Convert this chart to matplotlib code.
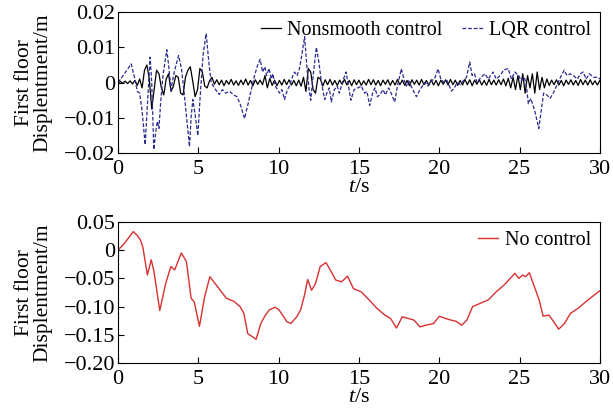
import numpy as np
import matplotlib.pyplot as plt

plt.rcParams['font.family'] = ['Liberation Serif', 'DejaVu Serif']
plt.rcParams['mathtext.fontset'] = 'custom'
plt.rcParams['mathtext.rm'] = 'Liberation Serif'
plt.rcParams['mathtext.it'] = 'Liberation Serif:italic'

# Nonsmooth control, sampled every 0.15 s (values in 1e-3 m)
t_ns = np.arange(201) * 0.15
ns_mm = [
    0.0, 0.3, -0.2, 0.4, -0.3, 0.5, -0.4, 0.6, -0.8, 1.0,
    -1.5, 3.5, 5.0, 1.0, -7.5, -2.0, 3.5, 2.5, -1.5, -3.5,
    1.0, 2.5, -2.5, -1.0, 2.0, 1.5, -3.0, -3.5, 1.5, 3.5,
    4.5, 0.5, -4.0, -2.0, 4.0, 3.0, -1.0, -1.5, 0.5, 1.5,
    -0.5, 0.8, -0.6, 0.7, -0.9, 0.6, -0.5, 0.9, -0.7, 0.5,
    -0.8, 0.7, -0.6, 1.0, -0.7, 0.6, -0.9, 0.8, -0.5, 0.7,
    -0.6, 2.0, -1.5, 1.2, -0.8, 0.7, -0.9, 0.6, -0.7, 0.9,
    -0.6, 0.8, -0.7, 0.6, -0.9, 0.7, -1.0, 1.5, -2.5, 4.0,
    3.0, -2.0, -3.0, 1.5, 1.0, -1.0, 0.8, -0.6, 0.9, -0.7,
    0.6, -0.8, 0.7, -0.5, 0.9, -0.7, 0.6, -0.9, 0.8, -0.6,
    0.7, -0.8, 0.5, -0.7, 0.9, -0.6, 0.8, -0.7, 0.6, -0.9,
    0.7, -0.5, 0.8, -0.8, 0.6, -0.7, 0.9, -0.6, 0.7, -0.8,
    0.6, -0.9, 0.8, -0.5, 0.7, -0.7, 0.9, -0.6, 0.6, -0.8,
    0.8, -0.7, 0.6, -0.9, 0.7, -0.5, 0.8, -0.7, 0.9, -0.6,
    0.7, -0.8, 0.6, -0.7, 0.9, -0.6, 0.8, -0.9, 0.7, -0.5,
    0.8, -0.7, 0.6, -0.8, 0.9, -0.6, 0.7, -0.7, 0.8, -0.6,
    1.0, -0.9, 1.2, -1.5, 1.5, -2.0, 2.0, -2.0, 2.5, -3.0,
    2.0, -1.5, 2.5, -3.0, 3.0, -2.0, 1.5, -1.5, 1.0, -0.8,
    0.7, -0.6, 0.8, -0.7, 0.6, -0.9, 0.7, -0.5, 0.8, -0.7,
    0.6, -0.8, 0.9, -0.6, 0.7, -0.7, 0.8, -0.6, 0.5, -0.7,
    0.6,
]

# LQR control (t in s, values in 1e-3 m)
t_lqr = [0.0, 0.4, 0.82, 1.05, 1.2, 1.35, 1.5, 1.69, 1.85, 2.0, 2.1, 2.23, 2.35, 2.45, 2.55,
         2.65, 2.8, 3.04, 3.15, 3.3, 3.5, 3.77, 3.95, 4.1, 4.25, 4.45, 4.55, 4.66, 4.8, 4.97,
         5.1, 5.3, 5.49, 5.65, 5.8, 6.0, 6.3, 6.5, 6.7, 6.95, 7.2, 7.4, 7.6, 7.88, 8.1, 8.3,
         8.5, 8.7, 8.85, 9.0, 9.15, 9.25, 9.4, 9.55, 9.64, 9.8, 10.06, 10.2, 10.37, 10.55,
         10.68, 10.85, 10.99, 11.15, 11.3, 11.45, 11.62, 11.75, 11.9, 12.0, 12.15, 12.35, 12.5,
         12.64, 12.75, 12.87, 13.0, 13.16, 13.28, 13.47, 13.65, 13.78, 14.0, 14.2, 14.35, 14.5,
         14.7, 14.94, 15.15, 15.35, 15.5, 15.67, 15.85, 16.0, 16.15, 16.3, 16.5, 16.65, 16.85,
         17.0, 17.23, 17.4, 17.64, 17.8, 17.95, 18.1, 18.3, 18.58, 18.8, 18.95, 19.1, 19.3,
         19.5, 19.7, 19.93, 20.1, 20.3, 20.5, 20.76, 20.95, 21.1, 21.3, 21.5, 21.7, 21.9, 22.05,
         22.2, 22.35, 22.6, 22.85, 23.05, 23.35, 23.55, 23.8, 24.0, 24.29, 24.5, 24.7, 24.95,
         25.1, 25.3, 25.43, 25.55, 25.7, 25.95, 26.2, 26.35, 26.5, 26.7, 26.9, 27.1, 27.3,
         27.55, 27.78, 27.95, 28.15, 28.35, 28.6, 28.8, 28.96, 29.15, 29.35, 29.6, 29.89, 30.0]
lqr_mm = [0, 2.5, 5.3, 1.0, -2.5, -3.0, -8.0, -17.6, -5.0, 7.2, 0.0, -19.0, -14.0, -11.0, -13.0,
          -6.0, 2.0, 9.3, 5.0, -2.0, 3.0, 7.7, 4.0, -2.0, -9.0, -18.2, -10.0, -4.8, -9.0, -15.0,
          -5.0, 8.0, 13.9, 6.0, 0.0, -1.5, -3.4, -2.0, -3.0, -2.5, -3.5, -4.0, -6.0, -10.2, -6.0, -2.0,
          2.0, 5.0, 6.6, 3.0, 4.5, 2.0, 4.0, 1.0, 2.5, -1.0, -3.0, -2.0, -4.8, -2.0,
          -1.0, 1.5, 3.0, 2.0, 4.0, 8.0, 13.0, 5.0, -2.0, -5.0, 2.0, 10.0, 6.0,
          1.0, -2.0, -4.8, -3.0, -1.5, -5.5, -2.0, -1.0, -3.0, 0.5, 3.0, -1.0, -5.0,
          -2.0, -1.5, -1.0, -3.0, -2.5, -6.5, -3.0, -1.5, -4.0, -3.5, -2.0, -3.5, -1.5,
          -3.0, -5.5, -1.0, 3.9, 1.0, -1.0, 0.5, -1.5, -4.0, -2.0, -1.0, 0.0, -1.0,
          0.5, 1.0, 3.9, 1.0, 0.0, 0.5, -2.4, -1.5, 0.0, -0.5, 0.5, 1.5, 5.8, 2.0,
          2.5, 0.0, 1.5, 2.5, 1.0, 3.0, 1.0, 2.0, 3.5, 4.0, 1.0, 3.0, 2.0,
          0.5, 1.5, -1.0, -6.0, -4.5, -8.0, -13.0, -8.0, -3.0, -3.5, -4.5, -3.0, -1.0,
          1.5, 3.5, 2.0, 2.5, 2.0, 1.0, 2.5, 3.0, 1.0, 2.5, 1.5, 1.5, 1.0]

# No control (t in s, displacement in m)
t_nc = [0.0, 0.41, 0.95, 1.2, 1.39, 1.55, 1.83, 2.07, 2.24, 2.6, 2.97, 3.29, 3.53, 3.94,
        4.26, 4.55, 4.75, 5.07, 5.4, 5.72, 6.26, 6.74, 7.23, 7.6, 7.84, 8.08, 8.4, 8.6, 8.89,
        9.18, 9.42, 9.79, 10.03, 10.52, 10.76, 11.13, 11.37, 11.61, 11.81, 12.05, 12.3, 12.59,
        12.95, 13.27, 13.56, 13.93, 14.29, 14.66, 15.15, 15.63, 16.12, 16.61, 16.97, 17.34,
        17.7, 18.07, 18.43, 18.8, 19.16, 19.65, 20.01, 20.38, 20.74, 21.05, 21.4, 21.72, 22.08,
        22.57, 23.06, 23.54, 24.03, 24.52, 24.71, 24.96, 25.2, 25.37, 25.61, 25.93, 26.22,
        26.47, 26.83, 27.2, 27.44, 27.8, 28.17, 28.65, 29.14, 29.63, 30.0]
nc = [0.0, 0.0125, 0.033, 0.026, 0.0185, 0.005, -0.044, -0.017, -0.038, -0.107, -0.059,
      -0.029, -0.035, -0.005, -0.02, -0.085, -0.092, -0.135, -0.082, -0.047, -0.067, -0.085,
      -0.091, -0.1, -0.112, -0.148, -0.154, -0.158, -0.13, -0.115, -0.106, -0.101, -0.106,
      -0.127, -0.13, -0.118, -0.106, -0.08, -0.052, -0.071, -0.059, -0.029, -0.022, -0.038,
      -0.053, -0.056, -0.046, -0.068, -0.074, -0.088, -0.103, -0.115, -0.121, -0.138, -0.118,
      -0.121, -0.124, -0.136, -0.133, -0.13, -0.117, -0.121, -0.124, -0.126, -0.133, -0.124,
      -0.1, -0.094, -0.088, -0.074, -0.062, -0.047, -0.041, -0.05, -0.044, -0.047, -0.04,
      -0.065, -0.088, -0.117, -0.115, -0.13, -0.14, -0.13, -0.112, -0.103, -0.091, -0.08, -0.072]

fig = plt.figure(figsize=(6.13, 4.16), dpi=100)
ax1 = fig.add_axes([0.1925, 0.632, 0.786, 0.339])
ax2 = fig.add_axes([0.1925, 0.1274, 0.786, 0.339])

ax1.plot(t_ns, np.array(ns_mm) * 1e-3, color='black', lw=0.9, label='Nonsmooth control')
ax1.plot(t_lqr, np.array(lqr_mm) * 1e-3, color='#2a2a8e', lw=0.9, dashes=(3, 1.5),
         label='LQR control')
ax1.set_xlim(0, 30)
ax1.set_ylim(-0.02, 0.02)
ax1.set_yticks([0.02, 0.01, 0, -0.01, -0.02])
ax1.set_yticklabels(['0.02', '0.01', '0', '\u22120.01', '\u22120.02'])
ax1.legend(loc='upper right', ncol=2, frameon=False, fontsize=14.5, handlelength=1.0,
           handletextpad=0.3, columnspacing=1.0, borderaxespad=0.05)

ax2.plot(t_nc, nc, color='#d93030', lw=1.0, label='No control')
ax2.set_xlim(0, 30)
ax2.set_ylim(-0.20, 0.05)
ax2.set_yticks([0.05, 0, -0.05, -0.10, -0.15, -0.20])
ax2.set_yticklabels(['0.05', '0', '\u22120.05', '\u22120.10', '\u22120.15', '\u22120.20'])
ax2.legend(loc='upper right', frameon=False, fontsize=14.5, handlelength=1.0,
           handletextpad=0.3, borderaxespad=0.05)

for ax in (ax1, ax2):
    ax.set_xticks([0, 5, 10, 15, 20, 25, 30])
    ax.tick_params(direction='in', labelsize=16, length=4, top=False, right=False, pad=2)
    ax.tick_params(axis='x', pad=5)
    ax.set_xlabel('$t$/s', fontsize=16, labelpad=-1)
    ax.set_ylabel('First floor\nDisplentment/m', fontsize=15.5, labelpad=8, linespacing=1.0)
    for s in ax.spines.values():
        s.set_linewidth(0.8)

fig.savefig('out.png', dpi=100)
